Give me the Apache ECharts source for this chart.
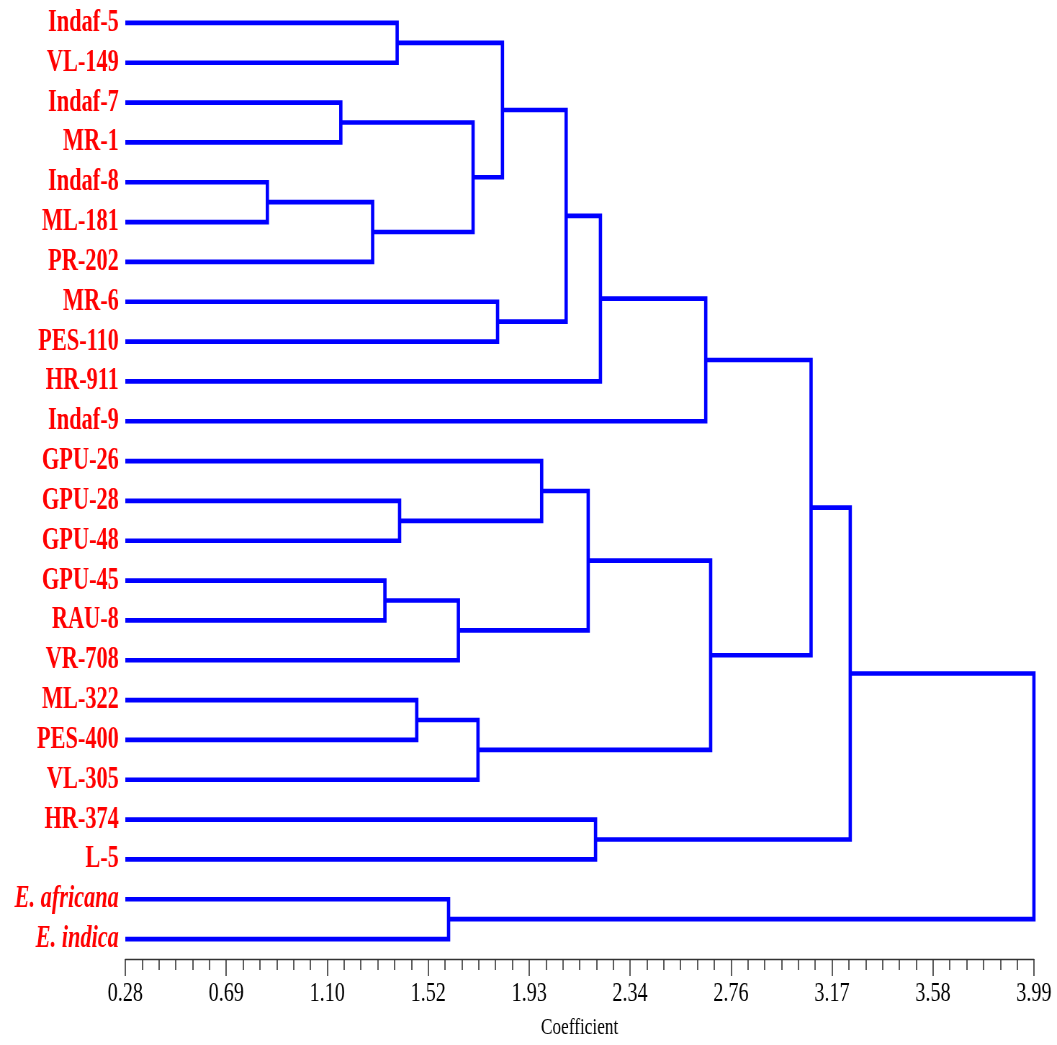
<!DOCTYPE html>
<html>
<head>
<meta charset="utf-8">
<title>Dendrogram</title>
<script src="https://cdn.jsdelivr.net/npm/echarts@6/dist/echarts.min.js"></script>
<style>
  html, body { margin: 0; padding: 0; background: #fff; overflow: hidden; }
  /* the original figure is squeezed sideways, so draw it wider and squeeze it the same way */
  #chart { width: 1468px; height: 1045px; transform: scaleX(0.72); transform-origin: 0 0; }
</style>
</head>
<body>
<div id="chart"></div>
<script>
// leaves, top to bottom
const leaves = [
  'Indaf-5', 'VL-149', 'Indaf-7', 'MR-1', 'Indaf-8', 'ML-181', 'PR-202',
  'MR-6', 'PES-110', 'HR-911', 'Indaf-9', 'GPU-26', 'GPU-28', 'GPU-48',
  'GPU-45', 'RAU-8', 'VR-708', 'ML-322', 'PES-400', 'VL-305', 'HR-374',
  'L-5', 'E. africana', 'E. indica'
];
const italicLeaves = ['E. africana', 'E. indica'];

// [child a, child b, coefficient] ; a number refers to an earlier merge
const merges = [
  ['Indaf-8', 'ML-181', 0.86],      // 0
  ['Indaf-7', 'MR-1', 1.16],        // 1
  [0, 'PR-202', 1.29],              // 2
  ['GPU-45', 'RAU-8', 1.34],        // 3
  ['Indaf-5', 'VL-149', 1.39],      // 4
  ['GPU-28', 'GPU-48', 1.40],       // 5
  ['ML-322', 'PES-400', 1.47],      // 6
  ['E. africana', 'E. indica', 1.60], // 7
  [3, 'VR-708', 1.64],              // 8
  [1, 2, 1.70],                     // 9
  [6, 'VL-305', 1.72],              // 10
  ['MR-6', 'PES-110', 1.80],        // 11
  [4, 9, 1.82],                     // 12
  ['GPU-26', 5, 1.98],              // 13
  [12, 11, 2.08],                   // 14
  [13, 8, 2.17],                    // 15
  ['HR-374', 'L-5', 2.20],          // 16
  [14, 'HR-911', 2.22],             // 17
  [17, 'Indaf-9', 2.65],            // 18
  [15, 10, 2.67],                   // 19
  [18, 19, 3.08],                   // 20
  [20, 16, 3.24],                   // 21
  [21, 7, 3.99]                     // 22
];

const xMin = 0.28;
const xMax = 3.99;
const tickLabels = ['0.28', '0.69', '1.10', '1.52', '1.93', '2.34', '2.76', '3.17', '3.58', '3.99'];
const minorPerMajor = 6;

const fontFam = "'Liberation Serif', 'Times New Roman', serif";

// tick positions
const majorStep = (xMax - xMin) / (tickLabels.length - 1);
const majorTicks = tickLabels.map((t, i) => xMin + i * majorStep);
const minorTicks = [];
for (let i = 0; i < (tickLabels.length - 1) * minorPerMajor; i++) {
  if (i % minorPerMajor !== 0) minorTicks.push(xMin + i * majorStep / minorPerMajor);
}

// each merge -> [x of a, y of a, height, y of b, x of b]
const nodeX = [];
const nodeY = [];
function posOf(ref) {
  if (typeof ref === 'string') return [xMin, leaves.indexOf(ref)];
  return [nodeX[ref], nodeY[ref]];
}
const linkData = merges.map(([a, b, h], i) => {
  const pa = posOf(a);
  const pb = posOf(b);
  nodeX[i] = h;
  nodeY[i] = (pa[1] + pb[1]) / 2;
  return [pa[0], pa[1], h, pb[1], pb[0]];
});

const chart = echarts.init(document.getElementById('chart'));

const option = {
  animation: false,
  backgroundColor: '#ffffff',
  grid: { left: 174, right: 32, top: 3, bottom: 85.5 },
  xAxis: [
    {
      type: 'value',
      min: xMin,
      max: xMax,
      position: 'bottom',
      axisLine: { onZero: false, lineStyle: { color: '#333', width: 1.3 } },
      axisTick: { customValues: majorTicks, length: 17, lineStyle: { color: '#333', width: 1.6 } },
      axisLabel: {
        customValues: majorTicks,
        margin: 21,
        fontSize: 28,
        fontFamily: fontFam,
        color: '#000',
        formatter: v => tickLabels[Math.round((v - xMin) / majorStep)]
      },
      splitLine: { show: false },
      name: 'Coefficient',
      nameLocation: 'middle',
      nameGap: 57,
      nameTextStyle: { fontSize: 24, fontFamily: fontFam, color: '#000' }
    },
    {
      // minor ticks only
      type: 'value',
      min: xMin,
      max: xMax,
      position: 'bottom',
      axisLine: { show: false, onZero: false },
      axisTick: { customValues: minorTicks, length: 11, lineStyle: { color: '#333', width: 1.6 } },
      axisLabel: { show: false },
      splitLine: { show: false }
    }
  ],
  yAxis: [
    {
      type: 'category',
      data: leaves,
      inverse: true,
      axisLine: { show: false },
      axisTick: { show: false },
      splitLine: { show: false },
      axisLabel: {
        interval: 0,
        margin: 9,
        color: '#ff0000',
        fontFamily: fontFam,
        fontWeight: 'bold',
        fontSize: 31,
        formatter: v => italicLeaves.includes(v) ? '{it|' + v + '}' : v,
        rich: {
          it: { fontStyle: 'italic', fontWeight: 'bold', fontSize: 31, fontFamily: fontFam, color: '#ff0000' }
        }
      }
    },
    {
      // numeric twin of the leaf axis, used to place the branches
      type: 'value',
      min: -0.5,
      max: leaves.length - 0.5,
      inverse: true,
      show: false,
      axisLine: { onZero: false }
    }
  ],
  series: [
    {
      type: 'custom',
      coordinateSystem: 'cartesian2d',
      xAxisIndex: 0,
      yAxisIndex: 1,
      silent: true,
      clip: false,
      encode: { x: [0, 2, 4], y: [1, 3] },
      data: linkData,
      renderItem: (params, api) => {
        const a = api.coord([api.value(0), api.value(1)]);
        const c1 = api.coord([api.value(2), api.value(1)]);
        const c2 = api.coord([api.value(2), api.value(3)]);
        const b = api.coord([api.value(4), api.value(3)]);
        return {
          type: 'polyline',
          shape: { points: [a, c1, c2, b] },
          style: { stroke: '#0000ff', lineWidth: 4.6, fill: null, lineJoin: 'miter' }
        };
      }
    }
  ]
};

chart.setOption(option);
</script>
</body>
</html>
